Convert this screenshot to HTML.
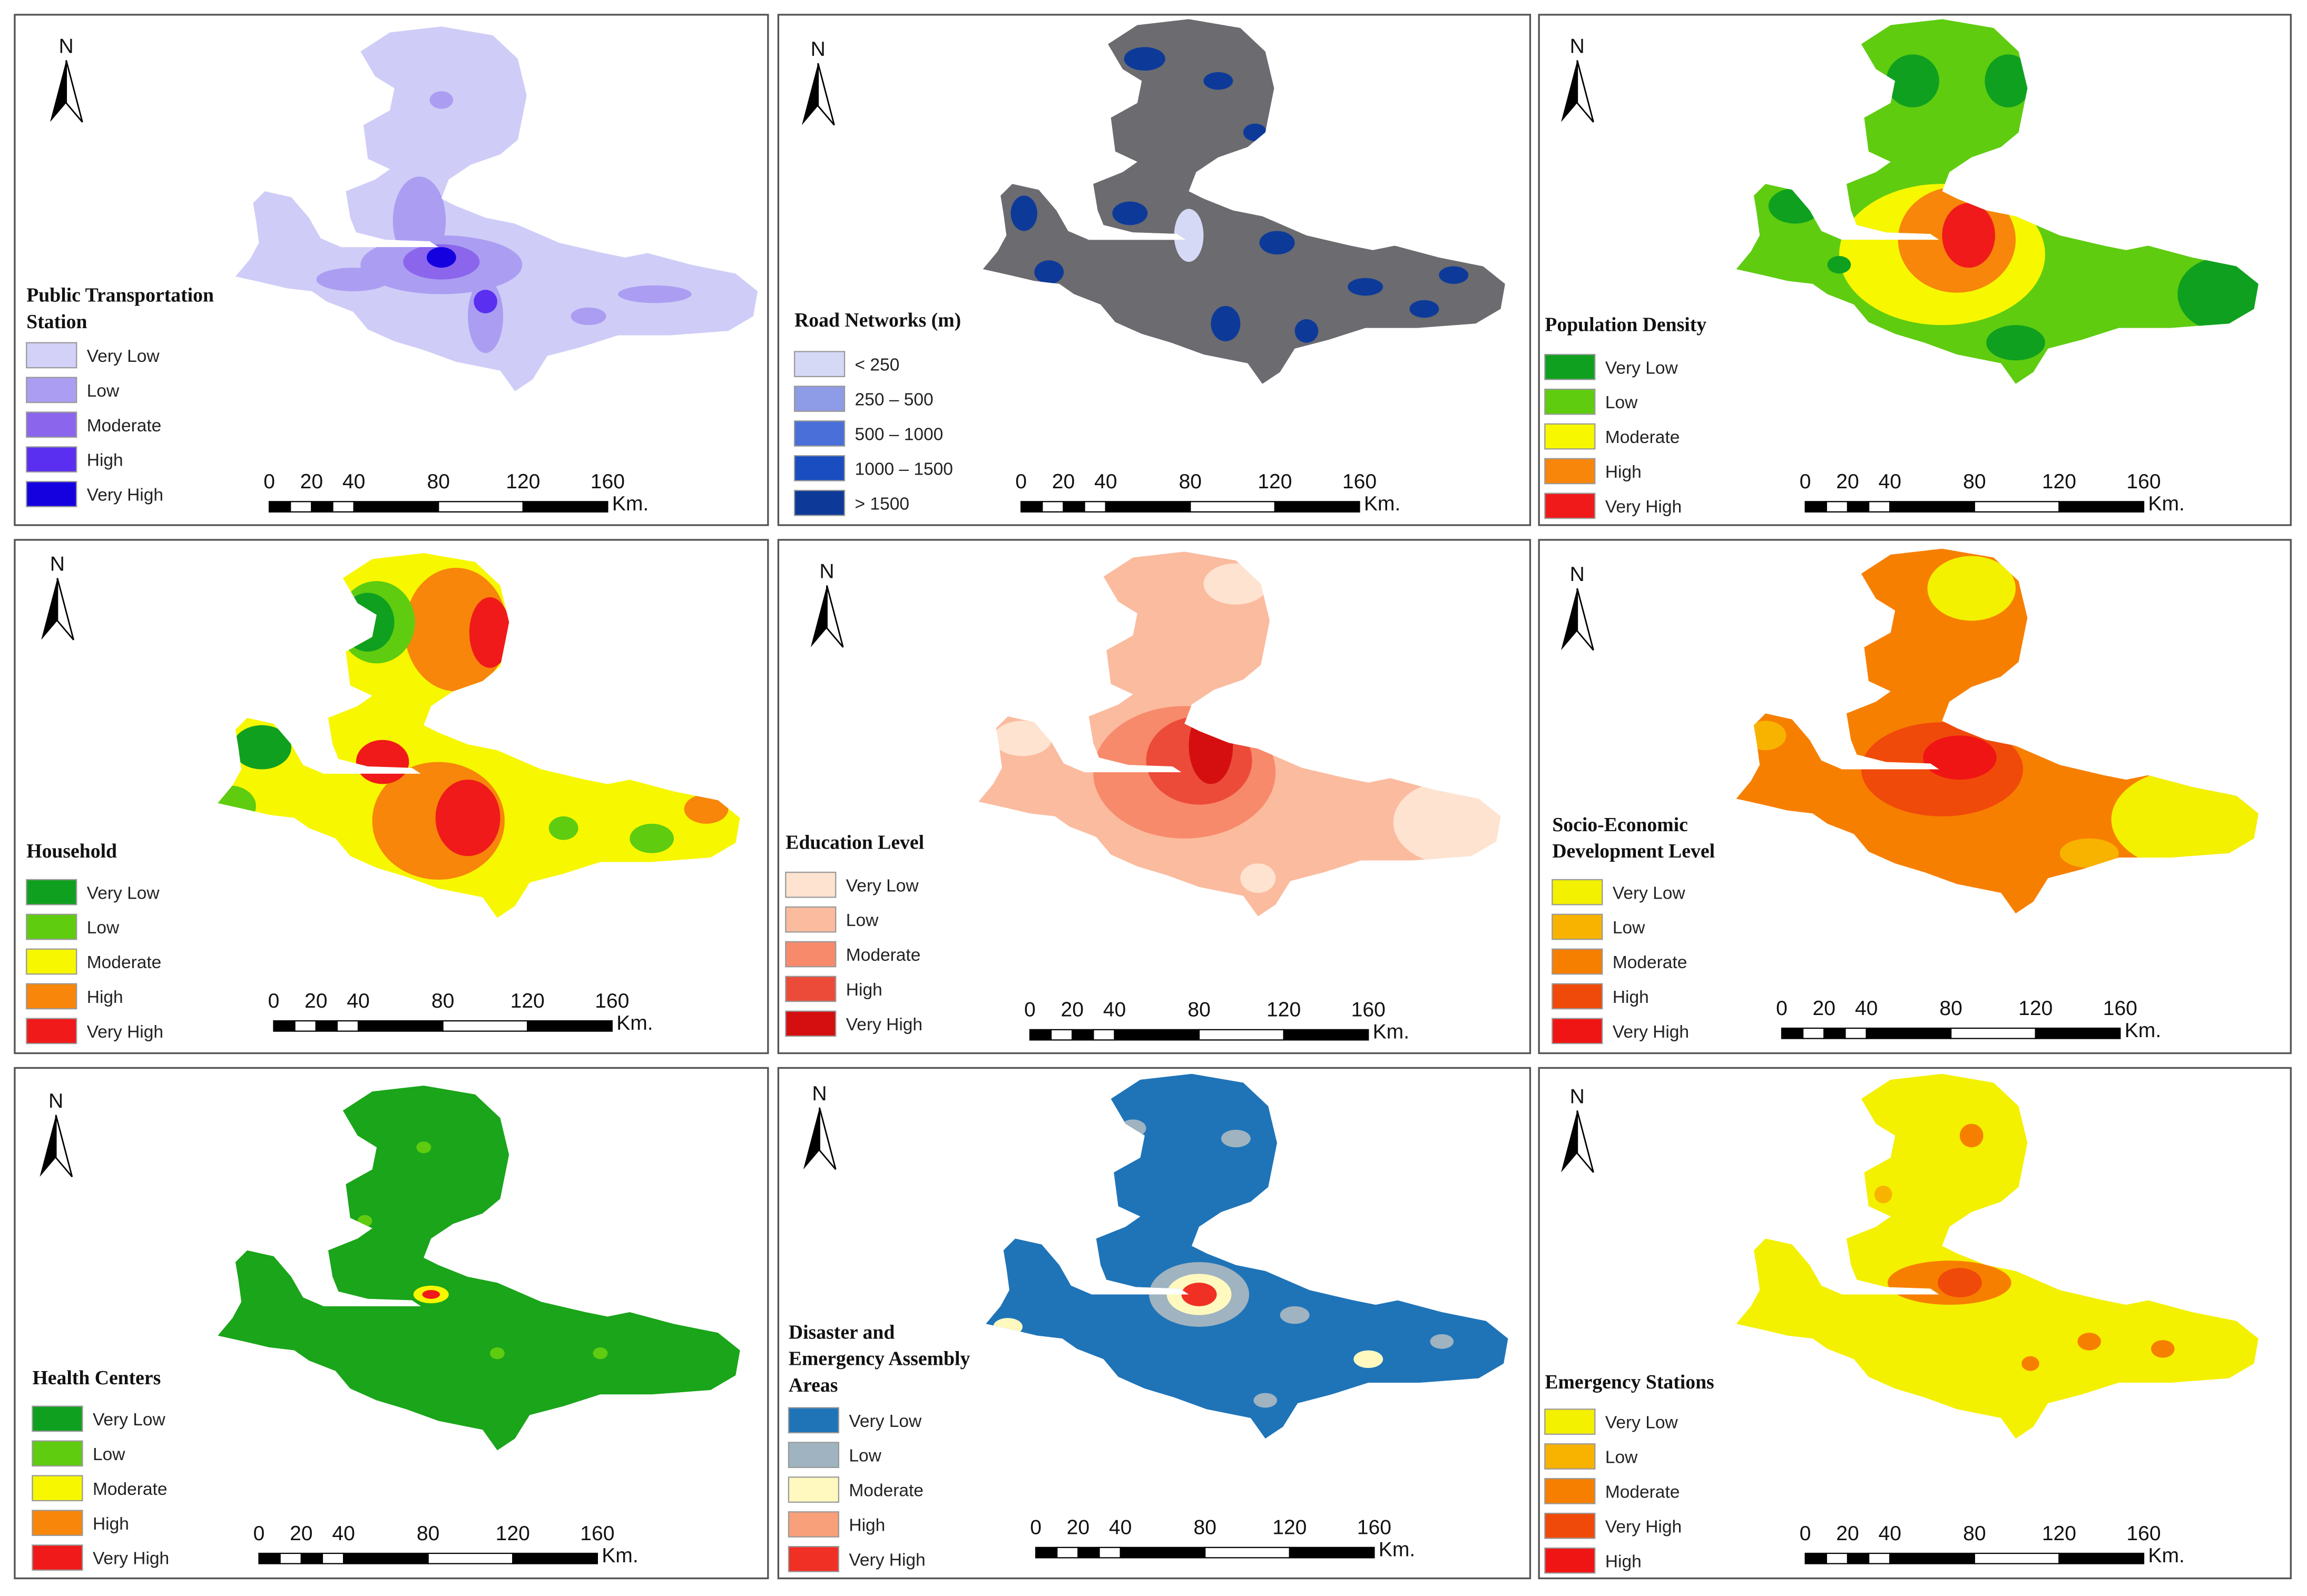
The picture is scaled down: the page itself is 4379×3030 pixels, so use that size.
<!DOCTYPE html>
<html><head><meta charset="utf-8"><style>
html,body{margin:0;padding:0;background:#fff;}
svg{display:block;}
.lt{font-family:"Liberation Serif",serif;font-weight:bold;font-size:13.5px;fill:#111;}
.ll{font-family:"Liberation Sans",sans-serif;font-size:12px;fill:#222;}
.sl{font-family:"Liberation Sans",sans-serif;font-size:14px;fill:#111;}
</style></head><body>
<svg id="fig" xmlns="http://www.w3.org/2000/svg" width="4379" height="3030" viewBox="0 0 1568 1085" preserveAspectRatio="none">
<defs>
<path id="shape" d="M245,35 L265,22 L300,18 L335,24 L352,40 L358,65 L352,95 L340,105 L320,112 L305,122 L300,135 L310,140 L330,148 L350,152 L380,165 L410,172 L425,175 L440,172 L470,180 L500,186 L515,198 L512,215 L495,225 L455,228 L420,228 L395,236 L372,242 L362,258 L350,266 L340,252 L310,246 L288,238 L268,232 L250,224 L240,212 L222,205 L212,198 L195,196 L178,192 L160,188 L170,176 L176,165 L174,150 L172,138 L180,130 L198,134 L210,148 L218,162 L232,168 L262,168 L298,168 L292,164 L262,163 L242,158 L238,148 L235,130 L255,122 L265,115 L250,108 L247,85 L265,75 L268,60 L255,52 Z"/>
</defs>
</svg>
<script>
const titles=[["Public Transportation","Station"],["Road Networks (m)"],["Population Density"],["Household"],["Education Level"],["Socio-Economic","Development Level"],["Health Centers"],["Disaster and","Emergency Assembly","Areas"],["Emergency Stations"]];
const lv=["Very Low","Low","Moderate","High","Very High"];
const labelSets=[lv,["< 250","250 – 500","500 – 1000","1000 – 1500","> 1500"],lv,lv,lv,lv,lv,lv,["Very Low","Low","Moderate","Very High","High"]];
const palettes=[
["#d3d1f8","#ab9ef2","#8b66ec","#5a2ff0","#1500e0"],
["#d6d9f5","#8e9be6","#4a6fd8","#1a4dbf","#0d3a99"],
["#10a020","#5fcc10","#f7f700","#f7860a","#f01a1a"],
["#10a020","#5fcc10","#f7f700","#f7860a","#f01a1a"],
["#fde3d0","#fbbb9f","#f78a6b","#ec4b3a","#d50f0f"],
["#f3f000","#f8b300","#f77f00","#f04a0a","#f01515"],
["#10a020","#5fcc10","#f7f700","#f7860a","#f01a1a"],
["#1f74b8","#9fb3c0","#fff9c0","#f7a07a","#f03025"],
["#f3f000","#f8b300","#f77f00","#f04a0a","#f01515"]];
const baseFill=["#cfcdf7","#6b6b70","#5fcc10","#f7f700","#fbbb9f","#f77f00","#1aa51a","#1f74b8","#f3f000"];
const zones=[
[[300,180,55,20,1],[285,150,18,30,1],[240,190,25,8,1],[330,215,12,25,1],[300,178,26,12,2],[300,175,10,7,4],[330,205,8,8,3],[445,200,25,6,1],[300,68,8,6,1],[400,215,12,6,1]],
[[270,45,14,8,4],[320,60,10,6,4],[345,95,8,6,4],[188,150,9,12,4],[205,190,10,8,4],[260,150,12,8,4],[360,170,12,8,4],[420,200,12,6,4],[480,192,10,6,4],[300,165,10,18,0],[380,230,8,8,4],[325,225,10,12,4],[460,215,10,6,4]],
[[300,178,70,48,2],[310,168,40,36,3],[318,165,18,22,4],[490,205,30,25,0],[345,60,16,18,0],[280,60,18,18,0],[200,145,18,12,0],[350,238,20,12,0],[230,185,8,6,0]],
[[322,70,35,42,3],[345,72,14,24,4],[268,65,26,28,1],[262,65,18,20,0],[310,200,45,40,3],[330,198,22,26,4],[272,160,18,15,4],[190,150,20,15,0],[168,190,18,14,1],[455,212,15,10,1],[492,192,15,10,3],[395,205,10,8,1]],
[[300,168,62,45,2],[310,160,36,30,3],[318,150,15,26,4],[480,202,38,28,0],[335,40,22,14,0],[190,145,20,12,0],[350,240,12,10,0]],
[[470,202,55,35,0],[320,45,30,22,0],[300,168,55,32,3],[312,160,25,15,4],[180,145,14,10,1],[400,225,20,10,1]],
[[305,160,12,6,2],[305,160,6,3,4],[260,110,5,4,1],[350,200,5,4,1],[420,200,5,4,1],[300,60,5,4,1]],
[[305,168,34,22,1],[305,168,22,14,2],[305,168,12,8,4],[260,55,9,6,1],[330,62,10,6,1],[420,212,10,6,2],[370,182,10,6,1],[470,200,8,5,1],[350,240,8,5,1],[175,190,10,6,2]],
[[305,160,42,15,2],[312,160,15,10,3],[320,60,8,8,2],[260,100,6,6,1],[400,200,8,6,2],[450,205,8,6,2],[360,215,6,5,2]]];
const boxes=[[10,10,512,347],[529,10,511,347],[1046,10,511,347],[10,367,512,349],[529,367,511,349],[1046,367,511,349],[10,726,512,347],[529,726,511,347],[1046,726,511,347]];
const mapOff=[[0,0],[508,-5],[1020,-5],[-12,358],[505,357],[1020,355],[-12,720],[510,712],[1020,712]];
const legX=[18,540,1050,18,534,1055,22,536,1050];
const titleY=[205,222,225,583,577,565,941,910,944];
const swY=[233,239,241,598,593,598,956,957,958];
const northXY=[[45,28],[556,30],[1072,28],[39,380],[562,385],[1072,387],[38,745],[557,740],[1072,742]];
const scaleXY=[[183,341],[694,341],[1227,341],[186,694],[700,700],[1211,699],[176,1056],[704,1052],[1227,1056]];
const scaleKm=[0,20,40,80,120,160];
const NS="http://www.w3.org/2000/svg";
const svg=document.getElementById('fig');
function mk(t,a,p){const e=document.createElementNS(NS,t);for(const k in a)e.setAttribute(k,a[k]);(p||svg).appendChild(e);return e;}
const defs=svg.querySelector('defs');
const kmPx=230/160;
for(let i=0;i<9;i++){
  const g=mk('g',{});
  
  
  const b=boxes[i];
  const box=mk('rect',{x:b[0],y:b[1],width:b[2],height:b[3],fill:'#fff',stroke:'#555','stroke-width':1.2},g);
  
  
  const cp=mk('clipPath',{id:'cp'+i},defs);
  mk('use',{href:'#shape',transform:`translate(${mapOff[i][0]},${mapOff[i][1]})`},cp);
  const mg=mk('g',{'clip-path':`url(#cp${i})`},g);
  
  
  mk('use',{href:'#shape',fill:baseFill[i],transform:`translate(${mapOff[i][0]},${mapOff[i][1]})`},mg);
  for(const z of zones[i]){
    const e=mk('ellipse',{cx:z[0]+mapOff[i][0],cy:z[1]+mapOff[i][1],rx:z[2],ry:z[3],fill:palettes[i][z[4]]},mg);
    
    
  }
  const [nx,ny]=northXY[i];
  const ng=mk('g',{},g);
  
  
  const nt=mk('text',{x:nx,y:ny+8,'text-anchor':'middle',class:'sl'},ng);nt.textContent='N';
  mk('polygon',{points:`${nx},${ny+13} ${nx-11},${ny+55} ${nx},${ny+42}`,fill:'#000'},ng);
  mk('polygon',{points:`${nx},${ny+13} ${nx+11},${ny+55} ${nx},${ny+42}`,fill:'#fff',stroke:'#000','stroke-width':1},ng);
  const lg=mk('g',{},g);
  
  
  titles[i].forEach((t,k)=>{const e=mk('text',{x:legX[i],y:titleY[i]+k*18,class:'lt'},lg);e.textContent=t;
    
    });
  for(let k=0;k<5;k++){
    const y=swY[i]+k*23.6;
    const r=mk('rect',{x:legX[i],y:y,width:34,height:17,fill:palettes[i][k],stroke:'#999','stroke-width':0.8},lg);
    
    
    const t=mk('text',{x:legX[i]+41,y:y+13,class:'ll'},lg);t.textContent=labelSets[i][k];
    
    
  }
  const [sx,sy]=scaleXY[i];
  const sg=mk('g',{},g);
  
  
  const segs=[0,10,20,30,40,80,120,160];
  for(let k=0;k<segs.length-1;k++){
    mk('rect',{x:sx+segs[k]*kmPx,y:sy,width:(segs[k+1]-segs[k])*kmPx,height:7,fill:k%2?'#fff':'#000',stroke:'#000','stroke-width':0.8},sg);
  }
  scaleKm.forEach(v=>{const t=mk('text',{x:sx+v*kmPx,y:sy-9,'text-anchor':'middle',class:'sl'},sg);t.textContent=v;});
  const km=mk('text',{x:sx+233,y:sy+6,class:'sl'},sg);km.textContent='Km.';
}
</script>
</body></html>
